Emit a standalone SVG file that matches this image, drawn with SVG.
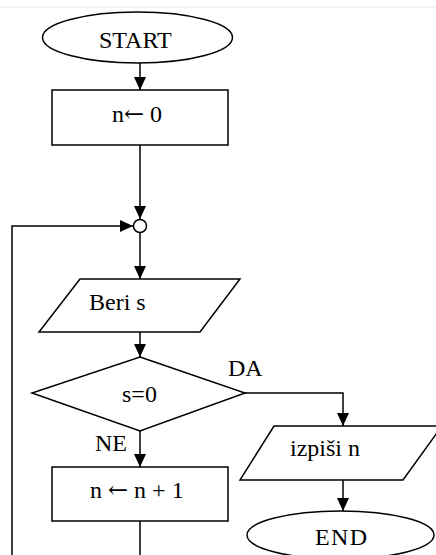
<svg xmlns="http://www.w3.org/2000/svg" width="436" height="555" viewBox="0 0 436 555">
  <style>
    .shape { fill: #ffffff; stroke: #000000; stroke-width: 1.5; }
    .conn { fill: none; stroke: #000000; stroke-width: 1.5; }
    .lbl { font-family: "Liberation Serif", serif; font-size: 24px; fill: #000000; }
    .arr { font-family: "DejaVu Serif", serif; }
  </style>
  <defs>
    <marker id="arrow" markerUnits="userSpaceOnUse" markerWidth="14" markerHeight="14" refX="13" refY="6" orient="auto">
      <path d="M0,0 L13,6 L0,12 z" fill="#000000"/>
    </marker>
  </defs>
  <rect x="0" y="0" width="436" height="555" fill="#ffffff"/>
  <line x1="0" y1="7" x2="436" y2="7" stroke="#e3e8ee" stroke-width="1"/>

  <g id="connectors">
    <line class="conn" x1="140" y1="63" x2="140" y2="90" marker-end="url(#arrow)"/>
    <line class="conn" x1="140" y1="145" x2="140" y2="219" marker-end="url(#arrow)"/>
    <polyline class="conn" points="140,521 140,562 12,562 12,226 133,226" marker-end="url(#arrow)"/>
    <line class="conn" x1="140" y1="232" x2="140" y2="279" marker-end="url(#arrow)"/>
    <line class="conn" x1="140" y1="332" x2="140" y2="357" marker-end="url(#arrow)"/>
    <polyline class="conn" points="245,393 343,393 343,426" marker-end="url(#arrow)"/>
    <line class="conn" x1="140" y1="431" x2="140" y2="467" marker-end="url(#arrow)"/>
    <line class="conn" x1="343" y1="480" x2="343" y2="511" marker-end="url(#arrow)"/>
    <text class="lbl" x="228" y="376">DA</text>
    <text class="lbl" x="95" y="451">NE</text>
  </g>

  <g id="start">
    <ellipse class="shape" cx="137.5" cy="37.5" rx="95" ry="25.5"/>
    <text class="lbl" x="99" y="48">START</text>
  </g>

  <g id="init">
    <rect class="shape" x="52" y="90" width="176" height="55"/>
    <text class="lbl" x="112" y="122">n<tspan class="arr">←</tspan> 0</text>
  </g>

  <g id="join">
    <circle class="shape" cx="140" cy="226" r="6.5"/>
  </g>

  <g id="read">
    <polygon class="shape" points="80,279 240,279 200,332 39,332"/>
    <text class="lbl" x="89" y="310">Beri s</text>
  </g>

  <g id="decision">
    <polygon class="shape" points="140,357 245,393 140,431 32,393"/>
    <text class="lbl" x="122" y="402">s=0</text>
  </g>

  <g id="increment">
    <rect class="shape" x="52" y="467" width="176" height="54"/>
    <text class="lbl" x="90" y="498">n <tspan class="arr">←</tspan> n + 1</text>
  </g>

  <g id="output">
    <polygon class="shape" points="274,426 442,426 403,480 240,480"/>
    <text class="lbl" x="290" y="456">izpiši n</text>
  </g>

  <g id="end">
    <ellipse class="shape" cx="340.5" cy="535" rx="93.5" ry="24"/>
    <text class="lbl" x="315" y="545" textLength="52" lengthAdjust="spacing">END</text>
  </g>
</svg>
